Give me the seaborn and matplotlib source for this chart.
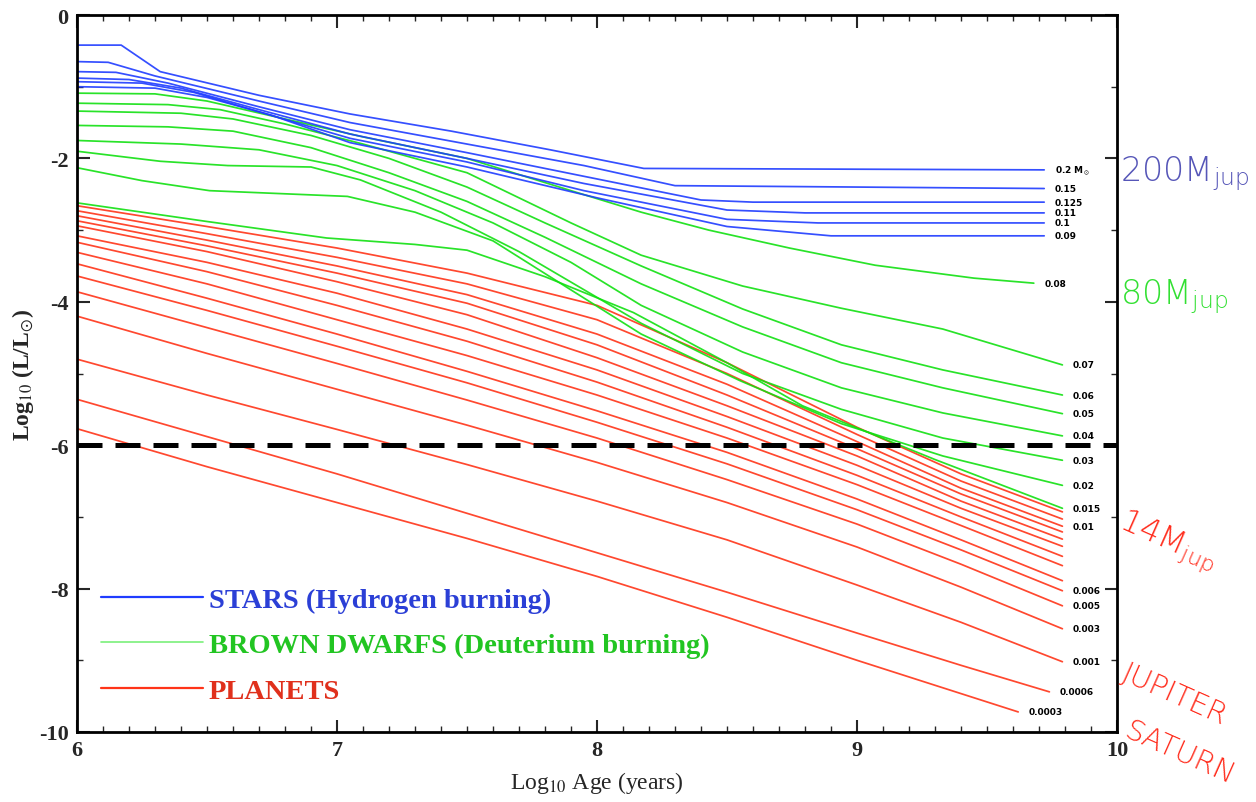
import numpy as np
import pandas as pd
import matplotlib
matplotlib.use("Agg")
import matplotlib.pyplot as plt
import seaborn as sns
from matplotlib.lines import Line2D
from matplotlib.ticker import MultipleLocator

# ---------------- data (log age [yr], log L/Lsun) ----------------
star_labels = ["0.2 M$_\\odot$", "0.15", "0.125", "0.11", "0.1", "0.09"]
star_ages = [
    [6.0, 6.17, 6.32, 6.7, 7.05, 7.44, 7.82, 8.18, 9.72],
    [6.0, 6.12, 6.3, 6.7, 7.05, 7.5, 7.95, 8.3, 9.72],
    [6.0, 6.15, 6.35, 6.7, 7.05, 7.5, 7.95, 8.4, 8.6, 9.72],
    [6.0, 6.2, 6.4, 6.7, 7.05, 7.5, 7.95, 8.5, 8.8, 9.72],
    [6.0, 6.25, 6.45, 6.7, 7.05, 7.5, 7.95, 8.5, 8.85, 9.72],
    [6.0, 6.3, 6.5, 6.75, 7.05, 7.5, 8.0, 8.5, 8.9, 9.72],
]
star_lums = [
    [-0.42, -0.42, -0.79, -1.12, -1.38, -1.62, -1.88, -2.14, -2.16],
    [-0.65, -0.66, -0.85, -1.20, -1.50, -1.80, -2.10, -2.38, -2.42],
    [-0.79, -0.80, -0.95, -1.28, -1.60, -1.92, -2.25, -2.58, -2.61, -2.61],
    [-0.88, -0.90, -1.02, -1.32, -1.66, -2.00, -2.35, -2.72, -2.76, -2.76],
    [-0.93, -0.95, -1.08, -1.35, -1.72, -2.05, -2.45, -2.85, -2.90, -2.90],
    [-1.00, -1.02, -1.15, -1.40, -1.78, -2.12, -2.55, -2.95, -3.08, -3.08],
]

bd_labels = ["0.08", "0.07", "0.06", "0.05", "0.04", "0.03", "0.02", "0.015"]
bd_ages = [
    [6.0, 6.3, 6.5, 6.8, 7.1, 7.5, 7.9, 8.17, 8.43, 8.74, 9.07, 9.45, 9.68],
    [6.0, 6.35, 6.55, 6.8, 7.1, 7.5, 7.9, 8.17, 8.56, 8.94, 9.33, 9.79],
    [6.0, 6.4, 6.6, 6.9, 7.2, 7.5, 7.8, 8.17, 8.56, 8.94, 9.33, 9.79],
    [6.0, 6.35, 6.6, 6.9, 7.2, 7.5, 7.8, 8.17, 8.56, 8.94, 9.33, 9.79],
    [6.0, 6.4, 6.7, 7.0, 7.3, 7.6, 7.9, 8.17, 8.56, 8.94, 9.33, 9.79],
    [6.0, 6.32, 6.58, 6.9, 7.09, 7.4, 7.7, 8.17, 8.56, 8.94, 9.33, 9.79],
    [6.0, 6.25, 6.51, 7.04, 7.3, 7.6, 8.17, 8.55, 8.94, 9.33, 9.79],
    [6.0, 6.5, 6.96, 7.3, 7.5, 7.8, 8.14, 8.5, 8.79, 9.3, 9.79],
]
bd_lums = [
    [-1.09, -1.10, -1.20, -1.45, -1.70, -2.00, -2.45, -2.75, -3.00, -3.25, -3.49, -3.67, -3.74],
    [-1.23, -1.25, -1.32, -1.52, -1.80, -2.20, -2.90, -3.35, -3.78, -4.09, -4.38, -4.88],
    [-1.34, -1.37, -1.45, -1.68, -2.00, -2.40, -2.90, -3.50, -4.10, -4.60, -4.95, -5.30],
    [-1.54, -1.56, -1.62, -1.85, -2.20, -2.60, -3.10, -3.75, -4.35, -4.85, -5.20, -5.56],
    [-1.75, -1.80, -1.88, -2.10, -2.45, -2.90, -3.45, -4.05, -4.70, -5.20, -5.55, -5.87],
    [-1.90, -2.04, -2.10, -2.12, -2.30, -2.75, -3.30, -4.30, -5.00, -5.50, -5.90, -6.21],
    [-2.13, -2.31, -2.45, -2.53, -2.75, -3.15, -4.45, -5.10, -5.70, -6.15, -6.56],
    [-2.62, -2.88, -3.11, -3.20, -3.28, -3.65, -4.15, -4.85, -5.45, -6.20, -6.88],
]

planet_labels = ["", "", "0.01", "", "", "", "", "", "", "0.006", "0.005",
                 "0.003", "0.001", "0.0006", "0.0003"]
planet_ages = [[6.0, 6.5, 7.0, 7.5, 8.0, 8.5, 9.0, 9.4, 9.79]] * 13 + [
    [6.0, 6.5, 7.0, 7.5, 8.0, 8.5, 9.0, 9.4, 9.74],
    [6.0, 6.5, 7.0, 7.5, 8.0, 8.5, 9.0, 9.62],
]
planet_lums = [
    [-2.66, -2.95, -3.25, -3.60, -4.05, -4.85, -5.75, -6.40, -6.93],
    [-2.73, -3.05, -3.38, -3.75, -4.25, -5.00, -5.85, -6.50, -7.03],
    [-2.80, -3.14, -3.50, -3.90, -4.45, -5.15, -5.95, -6.60, -7.13],
    [-2.87, -3.22, -3.60, -4.02, -4.60, -5.30, -6.05, -6.68, -7.21],
    [-2.94, -3.30, -3.72, -4.18, -4.78, -5.45, -6.15, -6.78, -7.31],
    [-3.08, -3.45, -3.88, -4.38, -4.95, -5.60, -6.28, -6.88, -7.41],
    [-3.17, -3.58, -4.05, -4.55, -5.12, -5.75, -6.42, -7.00, -7.55],
    [-3.31, -3.75, -4.25, -4.75, -5.30, -5.90, -6.55, -7.12, -7.68],
    [-3.47, -3.95, -4.45, -4.97, -5.52, -6.10, -6.75, -7.32, -7.89],
    [-3.64, -4.12, -4.62, -5.13, -5.68, -6.26, -6.90, -7.46, -8.03],
    [-3.86, -4.36, -4.86, -5.37, -5.90, -6.48, -7.10, -7.66, -8.24],
    [-4.20, -4.72, -5.22, -5.72, -6.24, -6.80, -7.42, -7.98, -8.56],
    [-4.80, -5.30, -5.78, -6.27, -6.78, -7.32, -7.95, -8.47, -9.02],
    [-5.36, -5.88, -6.40, -6.95, -7.50, -8.05, -8.62, -9.07, -9.44],
    [-5.77, -6.30, -6.80, -7.30, -7.83, -8.40, -9.00, -9.72],
]

legend_texts = ["STARS (Hydrogen burning)", "BROWN DWARFS (Deuterium burning)", "PLANETS"]
detection_limit = -6.0

# ---------------- style ----------------
BLUE, GREEN, RED = "#1f3cff", "#12e012", "#ff3418"
LBLUE, LGREEN, LRED = "#2b3fd6", "#22c522", "#e0301c"


def long_frame(ages, lums, group):
    rows = []
    for i, (a, l) in enumerate(zip(ages, lums)):
        for x, y in zip(a, l):
            rows.append({"group": group, "track": i, "age": x, "lum": y})
    return pd.DataFrame(rows)


df = pd.concat([
    long_frame(star_ages, star_lums, "star"),
    long_frame(bd_ages, bd_lums, "bd"),
    long_frame(planet_ages, planet_lums, "planet"),
], ignore_index=True)

sns.set_theme(style="ticks")
plt.rcParams["font.family"] = ["Liberation Serif", "DejaVu Serif"]
plt.rcParams["mathtext.fontset"] = "stix"
plt.rcParams["axes.unicode_minus"] = False

fig = plt.figure(figsize=(12.56, 8.03), dpi=100)
ax = fig.add_axes([77 / 1256, 1 - 733 / 803, (1117 - 77) / 1256, (733 - 16) / 803])

for grp, col in [("planet", RED), ("bd", GREEN), ("star", BLUE)]:
    sns.lineplot(data=df[df.group == grp], x="age", y="lum", units="track",
                 estimator=None, sort=False, color=col, lw=1.25, alpha=0.9,
                 ax=ax, legend=False)

ax.axhline(detection_limit, color="black", lw=3.6, dashes=(5, 2.6), zorder=5)

# end-of-track mass labels
for ages, lums, labels in [(star_ages, star_lums, star_labels),
                           (bd_ages, bd_lums, bd_labels),
                           (planet_ages, planet_lums, planet_labels)]:
    for a, l, lab in zip(ages, lums, labels):
        if lab:
            ax.text(a[-1] + 0.04, l[-1], lab, fontsize=6.5, fontweight="bold",
                    color="black", va="center", ha="left",
                    family=["DejaVu Sans"])

# legend
handles = [Line2D([], [], color=BLUE, lw=1.6),
           Line2D([], [], color="#7af07a", lw=1.2),
           Line2D([], [], color=RED, lw=1.6)]
leg = ax.legend(handles, legend_texts, loc="lower left", bbox_to_anchor=(-0.002, 0.003),
                frameon=False, handlelength=3.6, handletextpad=0.2,
                labelspacing=0.7,
                prop={"family": "Liberation Serif", "weight": "bold", "size": 20.5})
for t, c in zip(leg.get_texts(), [LBLUE, LGREEN, LRED]):
    t.set_color(c)

# axes styling
ax.set_xlim(6, 10)
ax.set_ylim(-10, 0)
ax.set_xticks([6, 7, 8, 9, 10])
ax.set_yticks([0, -2, -4, -6, -8, -10])
ax.xaxis.set_minor_locator(MultipleLocator(0.1))
ax.yaxis.set_minor_locator(MultipleLocator(1))
ax.tick_params(which="major", direction="in", top=True, right=True, length=9,
               width=1.5, labelsize=16, pad=6)
ax.tick_params(which="minor", direction="in", top=True, right=True, length=4, width=1)
for lab in ax.get_xticklabels() + ax.get_yticklabels():
    lab.set_fontweight("bold")
for s in ax.spines.values():
    s.set_linewidth(2.0)
    s.set_color("black")

ax.set_xlabel("Log$_{10}$ Age (years)", fontsize=17, labelpad=6)
ax.set_ylabel("Log$_{10}$ (L/L$_{\\odot}$)", fontsize=17, labelpad=2, fontweight="bold")

# right-hand annotations
sans = ["DejaVu Sans"]
ax.text(1.003, 0.78, "200M$_{\\mathregular{jup}}$", transform=ax.transAxes, color="#5656b8",
        fontsize=24, family=sans, fontweight="light", va="center", ha="left", clip_on=False)
ax.text(1.003, 0.608, "80M$_{\\mathregular{jup}}$", transform=ax.transAxes, color="#33e033",
        fontsize=24, family=sans, fontweight="light", va="center", ha="left", clip_on=False)
ax.text(1.003, 0.295, "14M$_{\\mathregular{jup}}$", transform=ax.transAxes, color="#ff2a1a",
        fontsize=23, family=sans, fontweight="light", va="center", ha="left",
        rotation=-24, rotation_mode="anchor", clip_on=False)
ax.text(1.006, 0.085, "JUPITER", transform=ax.transAxes, color="#ff2a1a",
        fontsize=21, family=sans, fontweight="light", va="center", ha="left",
        rotation=-24, rotation_mode="anchor", clip_on=False)
ax.text(1.008, 0.005, "SATURN", transform=ax.transAxes, color="#ff2a1a",
        fontsize=21, family=sans, fontweight="light", va="center", ha="left",
        rotation=-24, rotation_mode="anchor", clip_on=False)

fig.savefig("out.png", dpi=100, facecolor="white")
